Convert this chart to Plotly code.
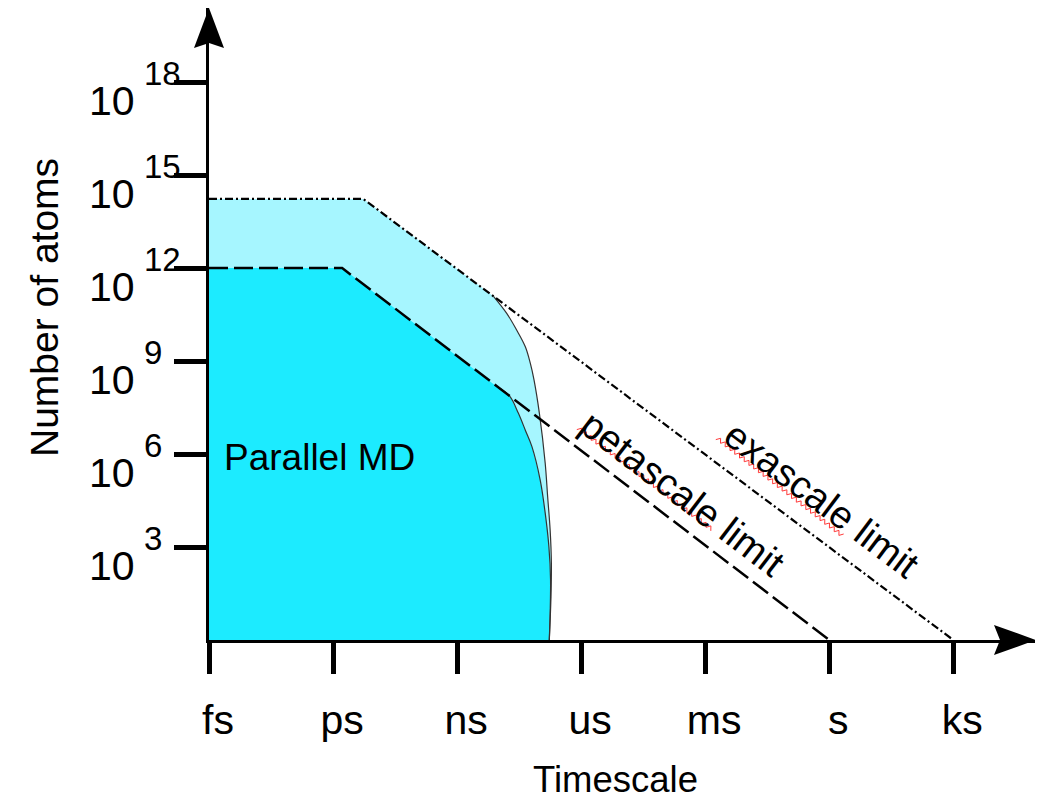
import numpy as np
import plotly.graph_objects as go

# ---------------- data (log10 values) ----------------
x_tick_labels = ["fs", "ps", "ns", "us", "ms", "s", "ks"]
x_tick_log_s = [-15, -12, -9, -6, -3, 0, 3]          # log10(seconds)
y_tick_exp = [3, 6, 9, 12, 15, 18]                    # log10(atoms)

# limits: flat part then N*t = const
peta_log_t = [-15.0, -11.78, 0.0]
peta_log_n = [12.0, 12.0, 0.0]
exa_log_t = [-15.0, -11.27, 3.0]
exa_log_n = [14.23, 14.23, 0.0]

# reach of parallel MD (curved fall-off)
outer_log_t = [-8.12, -7.80, -7.56, -7.35, -7.23, -7.14, -7.01, -6.87, -6.81, -6.75, -6.72, -6.73, -6.77]
outer_log_n = [11.09, 10.54, 10.00, 9.46, 8.93, 8.39, 7.31, 5.71, 4.62, 3.55, 2.48, 1.39, 0.0]
inner_log_t = [-7.96, -7.72, -7.52, -7.35, -7.19, -6.99, -6.87, -6.78, -6.74, -6.77]
inner_log_n = [8.11, 7.85, 7.32, 6.77, 6.24, 5.16, 4.10, 3.01, 1.94, 0.0]

FONT = "Liberation Sans, Arial, Helvetica, sans-serif"
LIGHT = "#A6F6FF"
DARK = "#1CEBFF"

p = lambda a: (10.0 ** np.asarray(a, dtype=float)).tolist()

fig = go.Figure()

# light (exascale) region
lx = [peta_log_t[0], exa_log_t[0], exa_log_t[1]] + outer_log_t
ly = [0.0, exa_log_n[0], exa_log_n[1]] + outer_log_n
fig.add_trace(go.Scatter(x=p(lx), y=p(ly), mode="lines", fill="toself",
                         fillcolor=LIGHT, line=dict(width=0), hoverinfo="skip"))
# dark (petascale) region
dx = [peta_log_t[0], peta_log_t[0], peta_log_t[1]] + inner_log_t
dy = [0.0, peta_log_n[0], peta_log_n[1]] + inner_log_n
fig.add_trace(go.Scatter(x=p(dx), y=p(dy), mode="lines", fill="toself",
                         fillcolor=DARK, line=dict(width=0), hoverinfo="skip"))
# curve outlines
fig.add_trace(go.Scatter(x=p(outer_log_t), y=p(outer_log_n), mode="lines",
                         line=dict(color="#333333", width=1.2, shape="spline"), hoverinfo="skip"))
fig.add_trace(go.Scatter(x=p(inner_log_t), y=p(inner_log_n), mode="lines",
                         line=dict(color="#333333", width=1.2, shape="spline"), hoverinfo="skip"))
# limit lines
fig.add_trace(go.Scatter(x=p(peta_log_t), y=p(peta_log_n), mode="lines",
                         line=dict(color="black", width=2.5, dash="19px,6px"), hoverinfo="skip"))
fig.add_trace(go.Scatter(x=p(exa_log_t), y=p(exa_log_n), mode="lines",
                         line=dict(color="black", width=2.2, dash="8px,3px,2px,3px"), hoverinfo="skip"))

annotations = []
# y tick labels: "10" with raised exponent
for e in y_tick_exp:
    annotations.append(dict(xref="paper", yref="y", x=0, y=e, xanchor="left", yanchor="middle",
                            xshift=-122, yshift=-19, text="10", showarrow=False,
                            font=dict(size=41, color="black", family=FONT)))
    annotations.append(dict(xref="paper", yref="y", x=0, y=e, xanchor="left", yanchor="middle",
                            xshift=-67, yshift=9, text=str(e), showarrow=False,
                            font=dict(size=33, color="black", family=FONT)))

annotations += [
    dict(xref="x", yref="y", x=-12.32, y=5.90, text="Parallel MD", showarrow=False,
         font=dict(size=37, color="black", family=FONT)),
    dict(xref="x", yref="y", x=-3.54, y=4.74, text="petascale limit", showarrow=False,
         textangle=37.4, font=dict(size=38.5, color="black", family=FONT)),
    dict(xref="x", yref="y", x=-0.18, y=4.52, text="exascale limit", showarrow=False,
         textangle=36.9, font=dict(size=38.5, color="black", family=FONT)),
    dict(xref="paper", yref="paper", x=0.4921, y=-0.2207, text="Timescale", showarrow=False,
         xanchor="center", yanchor="middle", font=dict(size=36.5, color="black", family=FONT)),
    dict(xref="paper", yref="paper", x=-0.1995, y=0.5253, text="Number of atoms", showarrow=False,
         textangle=-90, xanchor="center", yanchor="middle",
         font=dict(size=39, color="black", family=FONT)),
]


def squiggle(x0, y0, x1, y1, step=3.0, amp=2.0):
    """red spell-check style wavy underline, pixel offsets from the plot origin"""
    L = np.hypot(x1 - x0, y1 - y0)
    n = int(L // step)
    ux, uy = (x1 - x0) / L, (y1 - y0) / L
    nx, ny = -uy, ux
    pts = []
    for i in range(n + 1):
        s = (1 if i % 2 else -1) * amp
        pts.append((x0 + ux * i * step + nx * s, y0 + uy * i * step + ny * s))
    return "M" + " L".join(f"{a:.1f},{b:.1f}" for a, b in pts)


shapes = [
    # arrowhead of the time axis
    dict(type="path", xref="paper", yref="paper", xsizemode="pixel", ysizemode="pixel",
         xanchor=1, yanchor=0, path="M0,0 L-42,15 L-36,0 L-42,-15 Z",
         fillcolor="black", line=dict(width=0), layer="above"),
    # arrowhead of the atoms axis
    dict(type="path", xref="paper", yref="paper", xsizemode="pixel", ysizemode="pixel",
         xanchor=0, yanchor=1, path="M0,0 L-15,-40 L0,-35 L15,-40 Z",
         fillcolor="black", line=dict(width=0), layer="above"),
    # wavy underlines under "petascale" and "exascale"
    dict(type="path", xref="paper", yref="paper", xsizemode="pixel", ysizemode="pixel",
         xanchor=0, yanchor=0, path=squiggle(369, 212, 504, 110),
         line=dict(color="#FF3B3B", width=1), layer="above"),
    dict(type="path", xref="paper", yref="paper", xsizemode="pixel", ysizemode="pixel",
         xanchor=0, yanchor=0, path=squiggle(508, 202, 634, 104),
         line=dict(color="#FF3B3B", width=1), layer="above"),
]

fig.update_layout(
    width=1035, height=791,
    margin=dict(l=201, r=7, t=0, b=159, pad=0),
    paper_bgcolor="white", plot_bgcolor="white",
    showlegend=False,
    annotations=annotations, shapes=shapes,
    xaxis=dict(type="log", range=[-15, 5.0], showline=True, linecolor="black", linewidth=3,
               ticks="outside", ticklen=31, tickwidth=5, tickcolor="black",
               tickvals=p(x_tick_log_s), ticktext=x_tick_labels,
               tickfont=dict(size=41, color="black", family=FONT),
               ticklabelstandoff=11, ticklabelshift=9,
               showgrid=False, zeroline=False, fixedrange=True),
    yaxis=dict(type="log", range=[0, 20.39], showline=True, linecolor="black", linewidth=3,
               ticks="outside", ticklen=32, tickwidth=5, tickcolor="black",
               tickvals=p(y_tick_exp), showticklabels=False,
               showgrid=False, zeroline=False, fixedrange=True),
)

fig.write_html("out.html")
